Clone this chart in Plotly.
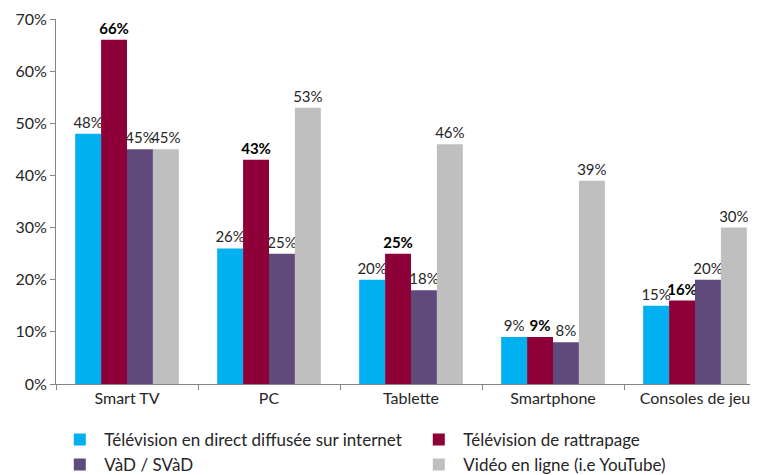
import plotly.graph_objects as go

categories = ["Smart TV", "PC", "Tablette", "Smartphone", "Consoles de jeu"]
series_names = [
    "Télévision en direct diffusée sur internet",
    "Télévision de rattrapage",
    "VàD / SVàD",
    "Vidéo en ligne (i.e YouTube)",
]
direct = [48, 26, 20, 9, 15]
rattrapage = [66, 43, 25, 9, 16]
vad = [45, 25, 18, 8, 20]
video = [45, 53, 46, 39, 30]
y_ticks = [0, 10, 20, 30, 40, 50, 60, 70]

colors = ["#00B0F0", "#8E0038", "#604A7B", "#BFBFBF"]
values = [direct, rattrapage, vad, video]
font_family = "Lato, Liberation Sans, Arial, sans-serif"
text_color = "#262626"

fig = go.Figure()
for i, (name, vals) in enumerate(zip(series_names, values)):
    bold = i == 1
    fig.add_trace(go.Bar(
        x=categories, y=vals, name=name,
        marker=dict(color=colors[i], line=dict(width=0)),
        text=[f"<b>{v}%</b>" if bold else f"{v}%" for v in vals],
        textposition="outside", constraintext="none",
        textfont=dict(family=font_family, size=15, color="#000000" if bold else text_color),
        cliponaxis=False,
    ))

# page body adds an 8px offset, so margins are shifted accordingly
fig.update_layout(
    width=758, height=475,
    barmode="group", bargap=0.27, bargroupgap=0,
    plot_bgcolor="white", paper_bgcolor="white",
    font=dict(family=font_family, size=16, color=text_color),
    margin=dict(t=11, b=99, l=48, r=0, autoexpand=False),
    showlegend=True,
    legend=dict(
        orientation="h", x=-0.001, y=-0.104, xanchor="left", yanchor="top",
        entrywidth=305, entrywidthmode="pixels", itemwidth=39,
        font=dict(family=font_family, size=17, color=text_color),
        traceorder="normal",
    ),
)
fig.update_xaxes(
    range=[-0.5, 4.5], showline=True, linecolor="#868686", linewidth=1,
    ticks="outside", tickson="boundaries", ticklen=5, tickcolor="#868686",
    showgrid=False, tickfont=dict(size=16, color=text_color),
)
fig.update_yaxes(
    range=[0, 70], tickvals=y_ticks, ticktext=[f"{t}%" for t in y_ticks],
    showline=True, linecolor="#868686", linewidth=1,
    ticks="outside", ticklen=5, tickcolor="#868686",
    showgrid=False, zeroline=False, tickfont=dict(size=16, color=text_color),
)

fig.write_html("out.html")
